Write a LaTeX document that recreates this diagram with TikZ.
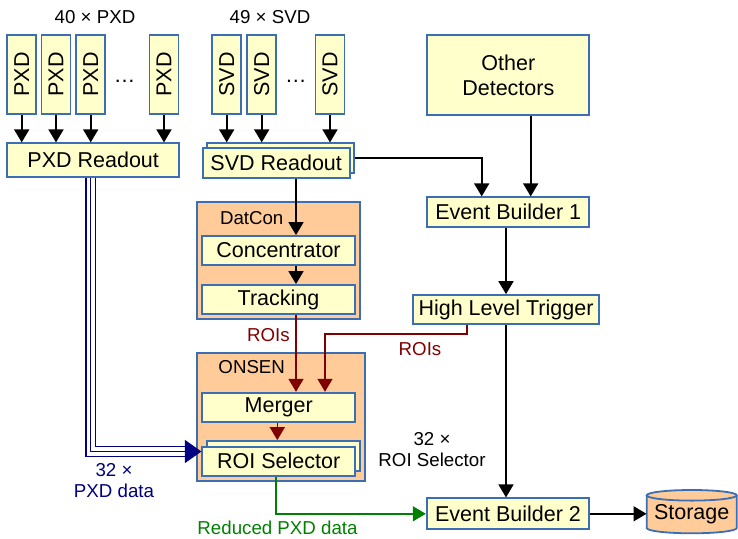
\documentclass[tikz,border=0pt]{standalone}
\usepackage{fontspec}
\setmainfont{Liberation Sans}
\usetikzlibrary{arrows.meta,calc}
\definecolor{bblue}{HTML}{3C6EB4}
\definecolor{byellow}{HTML}{FFFFCC}
\definecolor{borange}{HTML}{FFCC99}
\definecolor{droi}{HTML}{800000}
\definecolor{dgreen}{HTML}{008000}
\definecolor{dnavy}{HTML}{000080}
\newcommand\bfnt{\fontsize{21.5}{25}\selectfont}
\newcommand\lfnt{\fontsize{18.7}{21}\selectfont}
\begin{document}
\begin{tikzpicture}[x=1pt,y=-1pt,
  box/.style={draw=bblue, fill=byellow, line width=1.8pt, inner sep=0pt, font=\bfnt, align=center},
  vbox/.style={box, minimum width=29pt, minimum height=79pt},
  grp/.style={draw=bblue, fill=borange, line width=1.8pt, inner sep=0pt},
  lbl/.style={font=\lfnt, inner sep=0pt, align=center},
  arr/.style={-{Triangle[length=13pt,width=15pt]}, line width=1.7pt},
  roiarr/.style={arr, draw=droi, line width=1.6pt, -{Triangle[length=13pt,width=15pt,fill=droi]}},
  navyl/.style={draw=dnavy, line width=1.4pt}]
\useasboundingbox (0,0) rectangle (738,538);

% group boxes
\node[grp, minimum width=162.7pt, minimum height=117pt] (datcon) at (278.7,260.8) {};
\node[lbl] (datconl) at (251.7,218.3) {DatCon};
\node[grp, minimum width=167.7pt, minimum height=127.4pt] (onsen) at (281.2,417) {};
\node[lbl] (onsenl) at (251.7,367.3) {ONSEN};

% headers
\node[lbl] (hp) at (95,16.7) {40 × PXD};
\node[lbl] (hs) at (270,16.7) {49 × SVD};

% detector boxes
\node[vbox] (p1) at (21.7,74.5) {\rotatebox{90}{PXD}};
\node[vbox] (p2) at (56,74.5) {\rotatebox{90}{PXD}};
\node[vbox] (p3) at (90.7,74.5) {\rotatebox{90}{PXD}};
\node[vbox] (p4) at (164,74.5) {\rotatebox{90}{PXD}};
\node[lbl, font=\bfnt] (pd) at (124.5,81) {…};
\node[vbox] (s1) at (226.7,74.5) {\rotatebox{90}{SVD}};
\node[vbox] (s2) at (261.7,74.5) {\rotatebox{90}{SVD}};
\node[vbox] (s3) at (330,74.5) {\rotatebox{90}{SVD}};
\node[lbl, font=\bfnt] (sd) at (295.8,81) {…};

% readouts
\node[box, minimum width=171.7pt, minimum height=33.4pt] (pr) at (93.2,160) {PXD Readout};
\node[box, minimum width=147pt, minimum height=30pt] (svrb) at (280.7,158.3) {};
\node[box, minimum width=147pt, minimum height=30pt] (svr) at (276.2,163.3) {SVD Readout};

% right column
\node[box, minimum width=162pt, minimum height=80pt] (od) at (508.3,75) {Other\\Detectors};
\node[box, minimum width=162pt, minimum height=30pt] (eb1) at (508.3,212.3) {Event Builder 1};
\node[box, minimum width=186.6pt, minimum height=29.3pt] (hlt) at (506,309.7) {High Level Trigger};
\node[box, minimum width=162.6pt, minimum height=31pt] (eb2) at (508,513.8) {Event Builder 2};

% inner boxes
\node[box, minimum width=152.4pt, minimum height=29pt] (conc) at (278.5,250.5) {Concentrator};
\node[box, minimum width=152.4pt, minimum height=29pt] (trk) at (278.5,299.5) {Tracking};
\node[box, minimum width=152.7pt, minimum height=29.6pt] (merger) at (278.7,407.5) {Merger};
\node[box, minimum width=152.7pt, minimum height=30pt] (roib) at (283.7,456) {};
\node[box, minimum width=152.7pt, minimum height=29.3pt] (roi) at (278.7,461.3) {ROI Selector};

% storage cylinder
\fill[borange] (646.7,495.3) -- (646.7,528) arc[start angle=180, end angle=0, x radius=45, y radius=5.3] -- (736.7,495.3) -- cycle;
\draw[bblue, line width=1.8pt] (646.7,495.3) -- (646.7,528) arc[start angle=180, end angle=0, x radius=45, y radius=5.3] -- (736.7,495.3);
\draw[bblue, fill=borange, line width=1.8pt] (691.7,495.3) ellipse [x radius=45, y radius=5.3];
\node[inner sep=0pt, font=\bfnt, minimum width=90pt, minimum height=38pt] (storage) at (691.7,514.3) {Storage};

% helper coordinates
\coordinate (cx) at (296,0);
\coordinate (mx) at (325,0);
\coordinate (hx) at (466.7,334);
\coordinate (rx) at (277.3,0);
\coordinate (gx) at (276,0);
\coordinate (ex) at (481.7,0);
\coordinate (ox) at (530.7,0);
\coordinate (n1) at (86,456.3);
\coordinate (n2) at (90.7,451.5);
\coordinate (n3) at (95.3,446.7);
\coordinate (nend) at (187,0);

% detector arrows
\foreach \b in {p1,p2,p3,p4}{\draw[arr] (\b.south) -- (\b.south |- pr.north);}
\foreach \b in {s1,s2,s3}{\draw[arr] (\b.south) -- (\b.south |- svrb.north);}

% black connectors
\draw[arr] (svrb.east) -| (eb1.north -| ex);
\draw[arr] (od.south -| ox) -- (eb1.north -| ox);
\draw[arr] (hlt.north |- eb1.south) -- (hlt.north);
\draw[arr] (hlt.south) -- (hlt.south |- eb2.north);
\draw[arr] (eb2.east) -- (eb2.east -| storage.west);
\draw[arr] (svr.south -| cx) -- (conc.north -| cx);
\draw[arr] (conc.south -| cx) -- (trk.north -| cx);

% ROI connectors
\draw[roiarr] (trk.south -| cx) -- (merger.north -| cx);
\draw[roiarr] (hlt.south -| hx) -- (hx) -| (merger.north -| mx);
\draw[roiarr] (merger.south -| rx) -- (roib.north -| rx);
\node[lbl, text=droi] (roil1) at (268.3,335) {ROIs};
\node[lbl, text=droi] (roil2) at (420,349.3) {ROIs};

% reduced data
\draw[arr, draw=dgreen, line width=1.6pt, -{Triangle[length=13pt,width=15pt,fill=dgreen]}] (roi.south -| gx) |- (eb2.west);
\node[lbl, text=dgreen] (redl) at (277.5,527.5) {Reduced PXD data};

% PXD data triple line
\draw[navyl] (pr.south -| n1) |- (nend |- n1);
\draw[navyl] (pr.south -| n3) |- (nend |- n3);
\draw[navyl, -{Triangle[length=16.6pt,width=23pt]}] (pr.south -| n2) |- (roi.west |- n2);
\node[lbl, text=dnavy] (pxdl) at (114,481) {32 ×\\PXD data};

\node[lbl] (roisl) at (432,450) {32 ×\\ROI Selector};
\end{tikzpicture}
\end{document}
